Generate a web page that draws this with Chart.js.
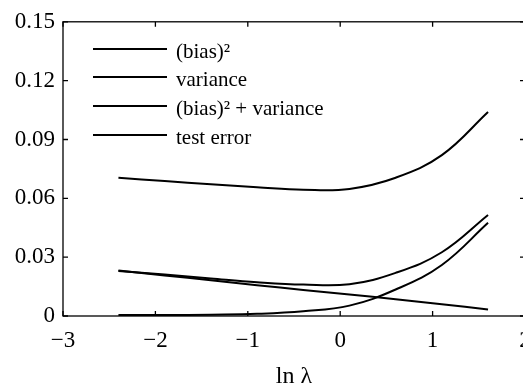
<!DOCTYPE html>
<html lang="en">
<head>
    <meta charset="UTF-8">
    <title>Bias-variance decomposition</title>
    <style>
        body { margin: 0; overflow: hidden; background: #fff; }
    </style>
    <script src="https://cdn.jsdelivr.net/npm/chart.js"></script>
</head>
<body>
    <canvas id="myChart" width="545" height="386"></canvas>

    <script>
        const lnLambda = [-2.4, -1.9, -1.4, -0.9, -0.4, 0.1, 0.6, 1.1, 1.6];
        const biasSq = [0.0005, 0.0005, 0.0007, 0.0011, 0.0024, 0.0053, 0.0135, 0.026, 0.0475];
        const variance = [0.0232, 0.0207, 0.0182, 0.0157, 0.0133, 0.011, 0.0085, 0.006, 0.0033];
        const biasSqPlusVar = [0.023, 0.0211, 0.0191, 0.0172, 0.016, 0.0162, 0.022, 0.0325, 0.0515];
        const testError = [0.0705, 0.0688, 0.0672, 0.0657, 0.0644, 0.0648, 0.0705, 0.082, 0.104];
        const seriesNames = ['(bias)\u00b2', 'variance', '(bias)\u00b2 + variance', 'test error'];
        const xTicks = [-3, -2, -1, 0, 1, 2];
        const yTicks = [0, 0.03, 0.06, 0.09, 0.12, 0.15];

        const serif = "'Liberation Serif', 'DejaVu Serif', serif";

        function toPoints(ys) {
            return lnLambda.map((x, i) => ({ x: x, y: ys[i] }));
        }

        // frame, inward tick marks and the legend inside the plot
        const framePlugin = {
            id: 'frame',
            afterDraw(chart) {
                const { ctx, chartArea: a, scales } = chart;
                ctx.save();
                ctx.strokeStyle = '#000';
                ctx.lineWidth = 1.3;
                ctx.strokeRect(a.left, a.top, a.right - a.left, a.bottom - a.top);
                ctx.beginPath();
                scales.x.ticks.forEach(t => {
                    const px = scales.x.getPixelForValue(t.value);
                    ctx.moveTo(px, a.bottom); ctx.lineTo(px, a.bottom - 5);
                    ctx.moveTo(px, a.top); ctx.lineTo(px, a.top + 5);
                });
                scales.y.ticks.forEach(t => {
                    const py = scales.y.getPixelForValue(t.value);
                    ctx.moveTo(a.left, py); ctx.lineTo(a.left + 5, py);
                    ctx.moveTo(a.right, py); ctx.lineTo(a.right - 5, py);
                });
                ctx.stroke();

                // legend
                ctx.font = '21px ' + serif;
                ctx.textBaseline = 'middle';
                ctx.fillStyle = '#000';
                ctx.lineWidth = 2;
                const rows = [49, 77, 106, 135];
                chart.data.datasets.forEach((ds, i) => {
                    ctx.beginPath();
                    ctx.moveTo(93, rows[i]);
                    ctx.lineTo(167, rows[i]);
                    ctx.stroke();
                    ctx.fillText(ds.label, 176, rows[i] + 3);
                });
                ctx.restore();
            }
        };

        const ctx = document.getElementById('myChart').getContext('2d');
        const lineStyle = {
            borderColor: '#000',
            borderWidth: 2,
            pointRadius: 0,
            fill: false,
            tension: 0.4
        };
        const myChart = new Chart(ctx, {
            type: 'line',
            data: {
                datasets: [
                    { label: seriesNames[0], data: toPoints(biasSq), ...lineStyle },
                    { label: seriesNames[1], data: toPoints(variance), ...lineStyle },
                    { label: seriesNames[2], data: toPoints(biasSqPlusVar), ...lineStyle },
                    { label: seriesNames[3], data: toPoints(testError), ...lineStyle }
                ]
            },
            options: {
                responsive: false,
                animation: false,
                layout: { padding: { left: 0, top: 17, right: 20, bottom: 0 } },
                plugins: {
                    legend: { display: false },
                    tooltip: { enabled: false }
                },
                scales: {
                    x: {
                        type: 'linear',
                        min: -3,
                        max: 2,
                        afterBuildTicks: s => { s.ticks = xTicks.map(v => ({ value: v })); },
                        afterFit: s => { s.height = 70; },
                        grid: { display: false, drawTicks: false },
                        border: { display: false },
                        ticks: {
                            color: '#000',
                            padding: 11,
                            font: { family: serif, size: 23 },
                            callback: v => String(v).replace('-', '\u2212')
                        },
                        title: {
                            display: true,
                            text: 'ln \u03bb',
                            color: '#000',
                            font: { family: serif, size: 24, lineHeight: 0.8 },
                            padding: { top: 0, bottom: 0 }
                        }
                    },
                    y: {
                        min: 0,
                        max: 0.15,
                        afterBuildTicks: s => { s.ticks = yTicks.map(v => ({ value: v })); },
                        afterFit: s => { s.width = 63; },
                        grid: { display: false, drawTicks: false },
                        border: { display: false },
                        ticks: {
                            color: '#000',
                            padding: 8,
                            font: { family: serif, size: 23 },
                            callback: v => String(Math.round(v * 100) / 100)
                        }
                    }
                }
            },
            plugins: [framePlugin]
        });
    </script>
</body>
</html>
